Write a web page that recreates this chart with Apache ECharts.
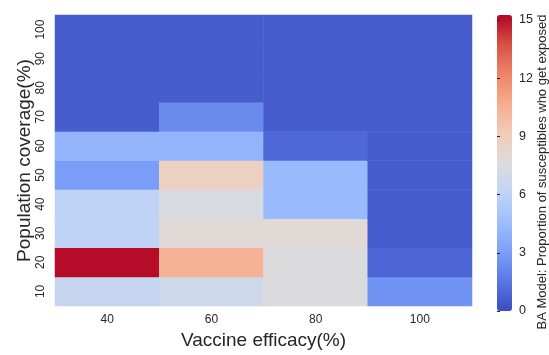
<!DOCTYPE html>
<html>
<head>
<meta charset="utf-8">
<script src="https://cdn.jsdelivr.net/npm/echarts@6/dist/echarts.min.js"></script>
<style>
  html, body { margin: 0; padding: 0; background: #fff; }
  #main { width: 549px; height: 355px; }
</style>
</head>
<body>
<div id="main"></div>
<script>
// categories
var efficacy = ['40', '60', '80', '100'];
var coverage = ['10', '20', '30', '40', '50', '60', '70', '80', '90', '100'];

// values per efficacy column, coverage 10 -> 100
var eff40 = [6.4, 15.1, 6.0, 6.0, 3.0, 4.1, 0.6, 0.6, 0.6, 0.6];
var eff60 = [6.8, 10.4, 7.9, 7.3, 8.7, 4.1, 2.3, 0.6, 0.6, 0.6];
var eff80 = [7.5, 7.5, 7.9, 4.4, 4.4, 1.0, 0.6, 0.6, 0.6, 0.6];
var eff100 = [2.6, 0.9, 0.6, 0.6, 0.6, 0.6, 0.6, 0.6, 0.6, 0.6];

var colorMin = 0;
var colorMax = 15.25;
var colorTicks = [0, 3, 6, 9, 12, 15];
var colorTitle = 'BA Model: Proportion of susceptibles who get exposed';

// matplotlib coolwarm
var coolwarm = ['#3b4cc0', '#5977e3', '#7b9ff9', '#9ebeff', '#c0d4f5', '#dddcdc',
                '#f2cbb7', '#f7ac8e', '#ee8468', '#d65244', '#b40426'];

var columns = [eff40, eff60, eff80, eff100];
var cells = [];
columns.forEach(function (col, xi) {
  col.forEach(function (v, yi) {
    cells.push([xi, yi, v]);
  });
});

var font = 'Liberation Sans, Arial, sans-serif';
var chart = echarts.init(document.getElementById('main'));

var option = {
  animation: false,
  textStyle: { fontFamily: font },
  grid: [
    { left: 55, right: 77, top: 15, bottom: 44 },
    { left: 497, width: 15, top: 15, bottom: 44 }
  ],
  xAxis: [{
    type: 'category',
    gridIndex: 0,
    data: efficacy,
    axisLine: { show: false },
    axisTick: { show: false },
    axisLabel: { color: '#262626', fontSize: 12, margin: 8 },
    name: 'Vaccine efficacy(%)',
    nameLocation: 'middle',
    nameGap: 25,
    nameTextStyle: { color: '#262626', fontSize: 19 }
  }, {
    type: 'value',
    gridIndex: 1,
    show: false,
    min: 0,
    max: 1
  }],
  yAxis: [{
    type: 'category',
    gridIndex: 0,
    data: coverage,
    axisLine: { show: false },
    axisTick: { show: false },
    axisLabel: { color: '#262626', fontSize: 12, rotate: 90, margin: 8 },
    name: 'Population coverage(%)',
    nameLocation: 'middle',
    nameGap: 21,
    nameMoveOverlap: false,
    nameRotate: 90,
    nameTextStyle: { color: '#262626', fontSize: 19 }
  }, {
    type: 'value',
    gridIndex: 1,
    position: 'right',
    min: colorMin,
    max: colorMax,
    interval: 3,
    z: 10,
    splitLine: { show: false },
    axisLine: { show: false },
    axisTick: { show: true, inside: false, length: 3, lineStyle: { color: '#262626', width: 1 } },
    axisLabel: { color: '#262626', fontSize: 12.5, margin: 7, showMaxLabel: false,
      formatter: function (v) { return colorTicks.indexOf(v) >= 0 ? v : ''; } }
  }],
  visualMap: {
    type: 'continuous',
    seriesIndex: 0,
    min: colorMin,
    max: colorMax,
    calculable: false,
    orient: 'vertical',
    left: 497,
    top: 15,
    itemWidth: 15,
    itemHeight: 296,
    padding: 0,
    z: 2,
    inRange: { color: coolwarm }
  },
  graphic: [{
    type: 'text',
    x: 542,
    y: 172,
    rotation: Math.PI / 2,
    style: {
      text: colorTitle,
      fill: '#262626',
      font: '13px ' + font,
      align: 'center',
      verticalAlign: 'middle'
    }
  }],
  series: [{
    type: 'heatmap',
    xAxisIndex: 0,
    yAxisIndex: 0,
    data: cells,
    itemStyle: { borderWidth: 0 },
    emphasis: { disabled: true }
  }]
};

chart.setOption(option);
</script>
</body>
</html>
